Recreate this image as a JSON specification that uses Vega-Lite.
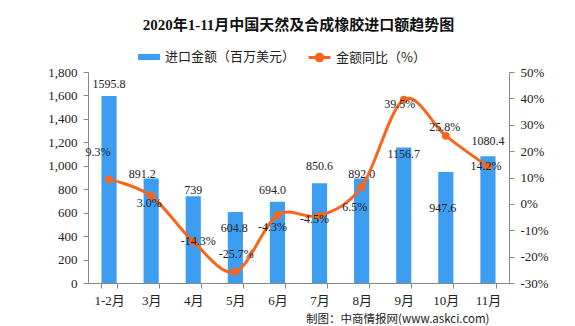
{
  "$schema": "https://vega.github.io/schema/vega-lite/v6.json",
  "autosize": {"type": "none"},
  "width": 421,
  "height": 211,
  "padding": {"left": 88, "top": 72, "right": 66, "bottom": 43},
  "background": "white",
  "config": {
    "view": {"stroke": null},
    "font": "Noto Sans CJK SC",
    "text": {"fontSize": 12, "color": "#222222", "font": "Liberation Serif", "baseline": "middle"},
    "axis": {"grid": false, "domainColor": "#888888", "tickColor": "#888888", "labelColor": "#222222", "labelFontSize": 13, "labelFont": "Liberation Serif, Noto Sans CJK SC", "labelOverlap": false}
  },
  "title": {
    "text": "2020年1-11月中国天然及合成橡胶进口额趋势图",
    "font": "Liberation Serif, Noto Sans CJK SC",
    "fontSize": 15,
    "fontWeight": "bold",
    "color": "#111111",
    "anchor": "middle",
    "offset": 12
  },
  "data": {
    "values": [
      {"month": "1-2月", "amount": 1595.8, "amtLabel": "1595.8", "yoy": 9.3, "yoyLabel": "9.3%"},
      {"month": "3月", "amount": 891.2, "amtLabel": "891.2", "yoy": 3.0, "yoyLabel": "3.0%"},
      {"month": "4月", "amount": 739, "amtLabel": "739", "yoy": -14.3, "yoyLabel": "-14.3%"},
      {"month": "5月", "amount": 604.8, "amtLabel": "604.8", "yoy": -25.7, "yoyLabel": "-25.7%"},
      {"month": "6月", "amount": 694.0, "amtLabel": "694.0", "yoy": -4.3, "yoyLabel": "-4.3%"},
      {"month": "7月", "amount": 850.6, "amtLabel": "850.6", "yoy": -4.5, "yoyLabel": "-4.5%"},
      {"month": "8月", "amount": 892.0, "amtLabel": "892.0", "yoy": 6.5, "yoyLabel": "6.5%"},
      {"month": "9月", "amount": 1156.7, "amtLabel": "1156.7", "yoy": 39.5, "yoyLabel": "39.5%"},
      {"month": "10月", "amount": 947.6, "amtLabel": "947.6", "yoy": 25.8, "yoyLabel": "25.8%"},
      {"month": "11月", "amount": 1080.4, "amtLabel": "1080.4", "yoy": 14.2, "yoyLabel": "14.2%"}
    ]
  },
  "encoding": {
    "x": {
      "field": "month", "type": "nominal", "sort": null,
      "scale": {"paddingInner": 0.64, "paddingOuter": 0.32},
      "axis": {"labelAngle": 0, "tickBand": "extent", "labelPadding": 6, "title": "制图：中商情报网(www.askci.com)", "titleAlign": "right", "titleX": 401, "titleFontSize": 11.5, "titleFontWeight": "normal", "titleColor": "#222222", "titlePadding": 6}
    }
  },
  "layer": [
    {
      "encoding": {
        "y": {"field": "amount", "type": "quantitative", "scale": {"domain": [0, 1800]},
          "axis": {"title": null, "values": [0,200,400,600,800,1000,1200,1400,1600,1800], "labelExpr": "format(datum.value, ',')", "orient": "left", "labelPadding": 6}}
      },
      "layer": [
        {
          "mark": {"type": "bar"},
          "encoding": {
            "fill": {"datum": "进口金额（百万美元）", "scale": {"range": ["#3D9DF0"]},
              "legend": {"title": null, "orient": "none", "legendX": 49, "legendY": -27, "symbolType": "M-1,-0.28H1V0.28H-1Z", "symbolSize": 480, "labelFontSize": 13, "labelColor": "#222222"}}
          }
        },
        {"transform": [{"filter": "datum.month == '1-2月'"}], "mark": {"type": "text", "dy": -12}, "encoding": {"text": {"field": "amtLabel"}}},
        {"transform": [{"filter": "datum.month == '3月'"}], "mark": {"type": "text", "dy": -5, "dx": -9}, "encoding": {"text": {"field": "amtLabel"}}},
        {"transform": [{"filter": "datum.month == '4月'"}], "mark": {"type": "text", "dy": -6}, "encoding": {"text": {"field": "amtLabel"}}},
        {"transform": [{"filter": "datum.month == '5月'"}], "mark": {"type": "text", "dy": 16, "dx": -1}, "encoding": {"text": {"field": "amtLabel"}}},
        {"transform": [{"filter": "datum.month == '6月'"}], "mark": {"type": "text", "dy": -12, "dx": -5}, "encoding": {"text": {"field": "amtLabel"}}},
        {"transform": [{"filter": "datum.month == '7月'"}], "mark": {"type": "text", "dy": -17}, "encoding": {"text": {"field": "amtLabel"}}},
        {"transform": [{"filter": "datum.month == '8月'"}], "mark": {"type": "text", "dy": -4}, "encoding": {"text": {"field": "amtLabel"}}},
        {"transform": [{"filter": "datum.month == '9月'"}], "mark": {"type": "text", "dy": 7}, "encoding": {"text": {"field": "amtLabel"}}},
        {"transform": [{"filter": "datum.month == '10月'"}], "mark": {"type": "text", "dy": 36, "dx": -3}, "encoding": {"text": {"field": "amtLabel"}}},
        {"transform": [{"filter": "datum.month == '11月'"}], "mark": {"type": "text", "dy": -15}, "encoding": {"text": {"field": "amtLabel"}}}
      ]
    },
    {
      "encoding": {
        "y": {"field": "yoy", "type": "quantitative", "scale": {"domain": [-30, 50]},
          "axis": {"title": null, "orient": "right", "values": [-30,-20,-10,0,10,20,30,40,50], "labelExpr": "datum.value + '%'", "labelPadding": 6}}
      },
      "layer": [
        {
          "mark": {"type": "line", "interpolate": "cardinal", "strokeWidth": 3},
          "encoding": {
            "stroke": {"datum": "金额同比（%）", "scale": {"range": ["#F8661E"]},
              "legend": {"title": null, "orient": "none", "legendX": 219, "legendY": -27, "symbolType": "M-1,0H1M0.3,0A0.3,0.3 0 1,1 -0.3,0A0.3,0.3 0 1,1 0.3,0", "symbolSize": 480, "symbolStrokeWidth": 3, "symbolFillColor": "#F8661E", "labelFontSize": 13, "labelColor": "#222222"}}
          }
        },
        {"mark": {"type": "circle", "size": 60, "color": "#F8661E", "opacity": 1}, "encoding": {}},
        {"transform": [{"filter": "datum.month == '1-2月'"}], "mark": {"type": "text", "dx": -11, "dy": -27}, "encoding": {"text": {"field": "yoyLabel"}}},
        {"transform": [{"filter": "datum.month == '3月'"}], "mark": {"type": "text", "dx": -2, "dy": 7}, "encoding": {"text": {"field": "yoyLabel"}}},
        {"transform": [{"filter": "datum.month == '4月'"}], "mark": {"type": "text", "dx": 5, "dy": -1}, "encoding": {"text": {"field": "yoyLabel"}}},
        {"transform": [{"filter": "datum.month == '5月'"}], "mark": {"type": "text", "dx": 1, "dy": -18}, "encoding": {"text": {"field": "yoyLabel"}}},
        {"transform": [{"filter": "datum.month == '6月'"}], "mark": {"type": "text", "dx": -5, "dy": 12}, "encoding": {"text": {"field": "yoyLabel"}}},
        {"transform": [{"filter": "datum.month == '7月'"}], "mark": {"type": "text", "dx": -5, "dy": 3}, "encoding": {"text": {"field": "yoyLabel"}}},
        {"transform": [{"filter": "datum.month == '8月'"}], "mark": {"type": "text", "dx": -7, "dy": 20}, "encoding": {"text": {"field": "yoyLabel"}}},
        {"transform": [{"filter": "datum.month == '9月'"}], "mark": {"type": "text", "dx": -4, "dy": 4}, "encoding": {"text": {"field": "yoyLabel"}}},
        {"transform": [{"filter": "datum.month == '10月'"}], "mark": {"type": "text", "dx": -1, "dy": -9}, "encoding": {"text": {"field": "yoyLabel"}}},
        {"transform": [{"filter": "datum.month == '11月'"}], "mark": {"type": "text", "dx": -2, "dy": 0}, "encoding": {"text": {"field": "yoyLabel"}}}
      ]
    }
  ],
  "resolve": {"scale": {"y": "independent"}}
}
